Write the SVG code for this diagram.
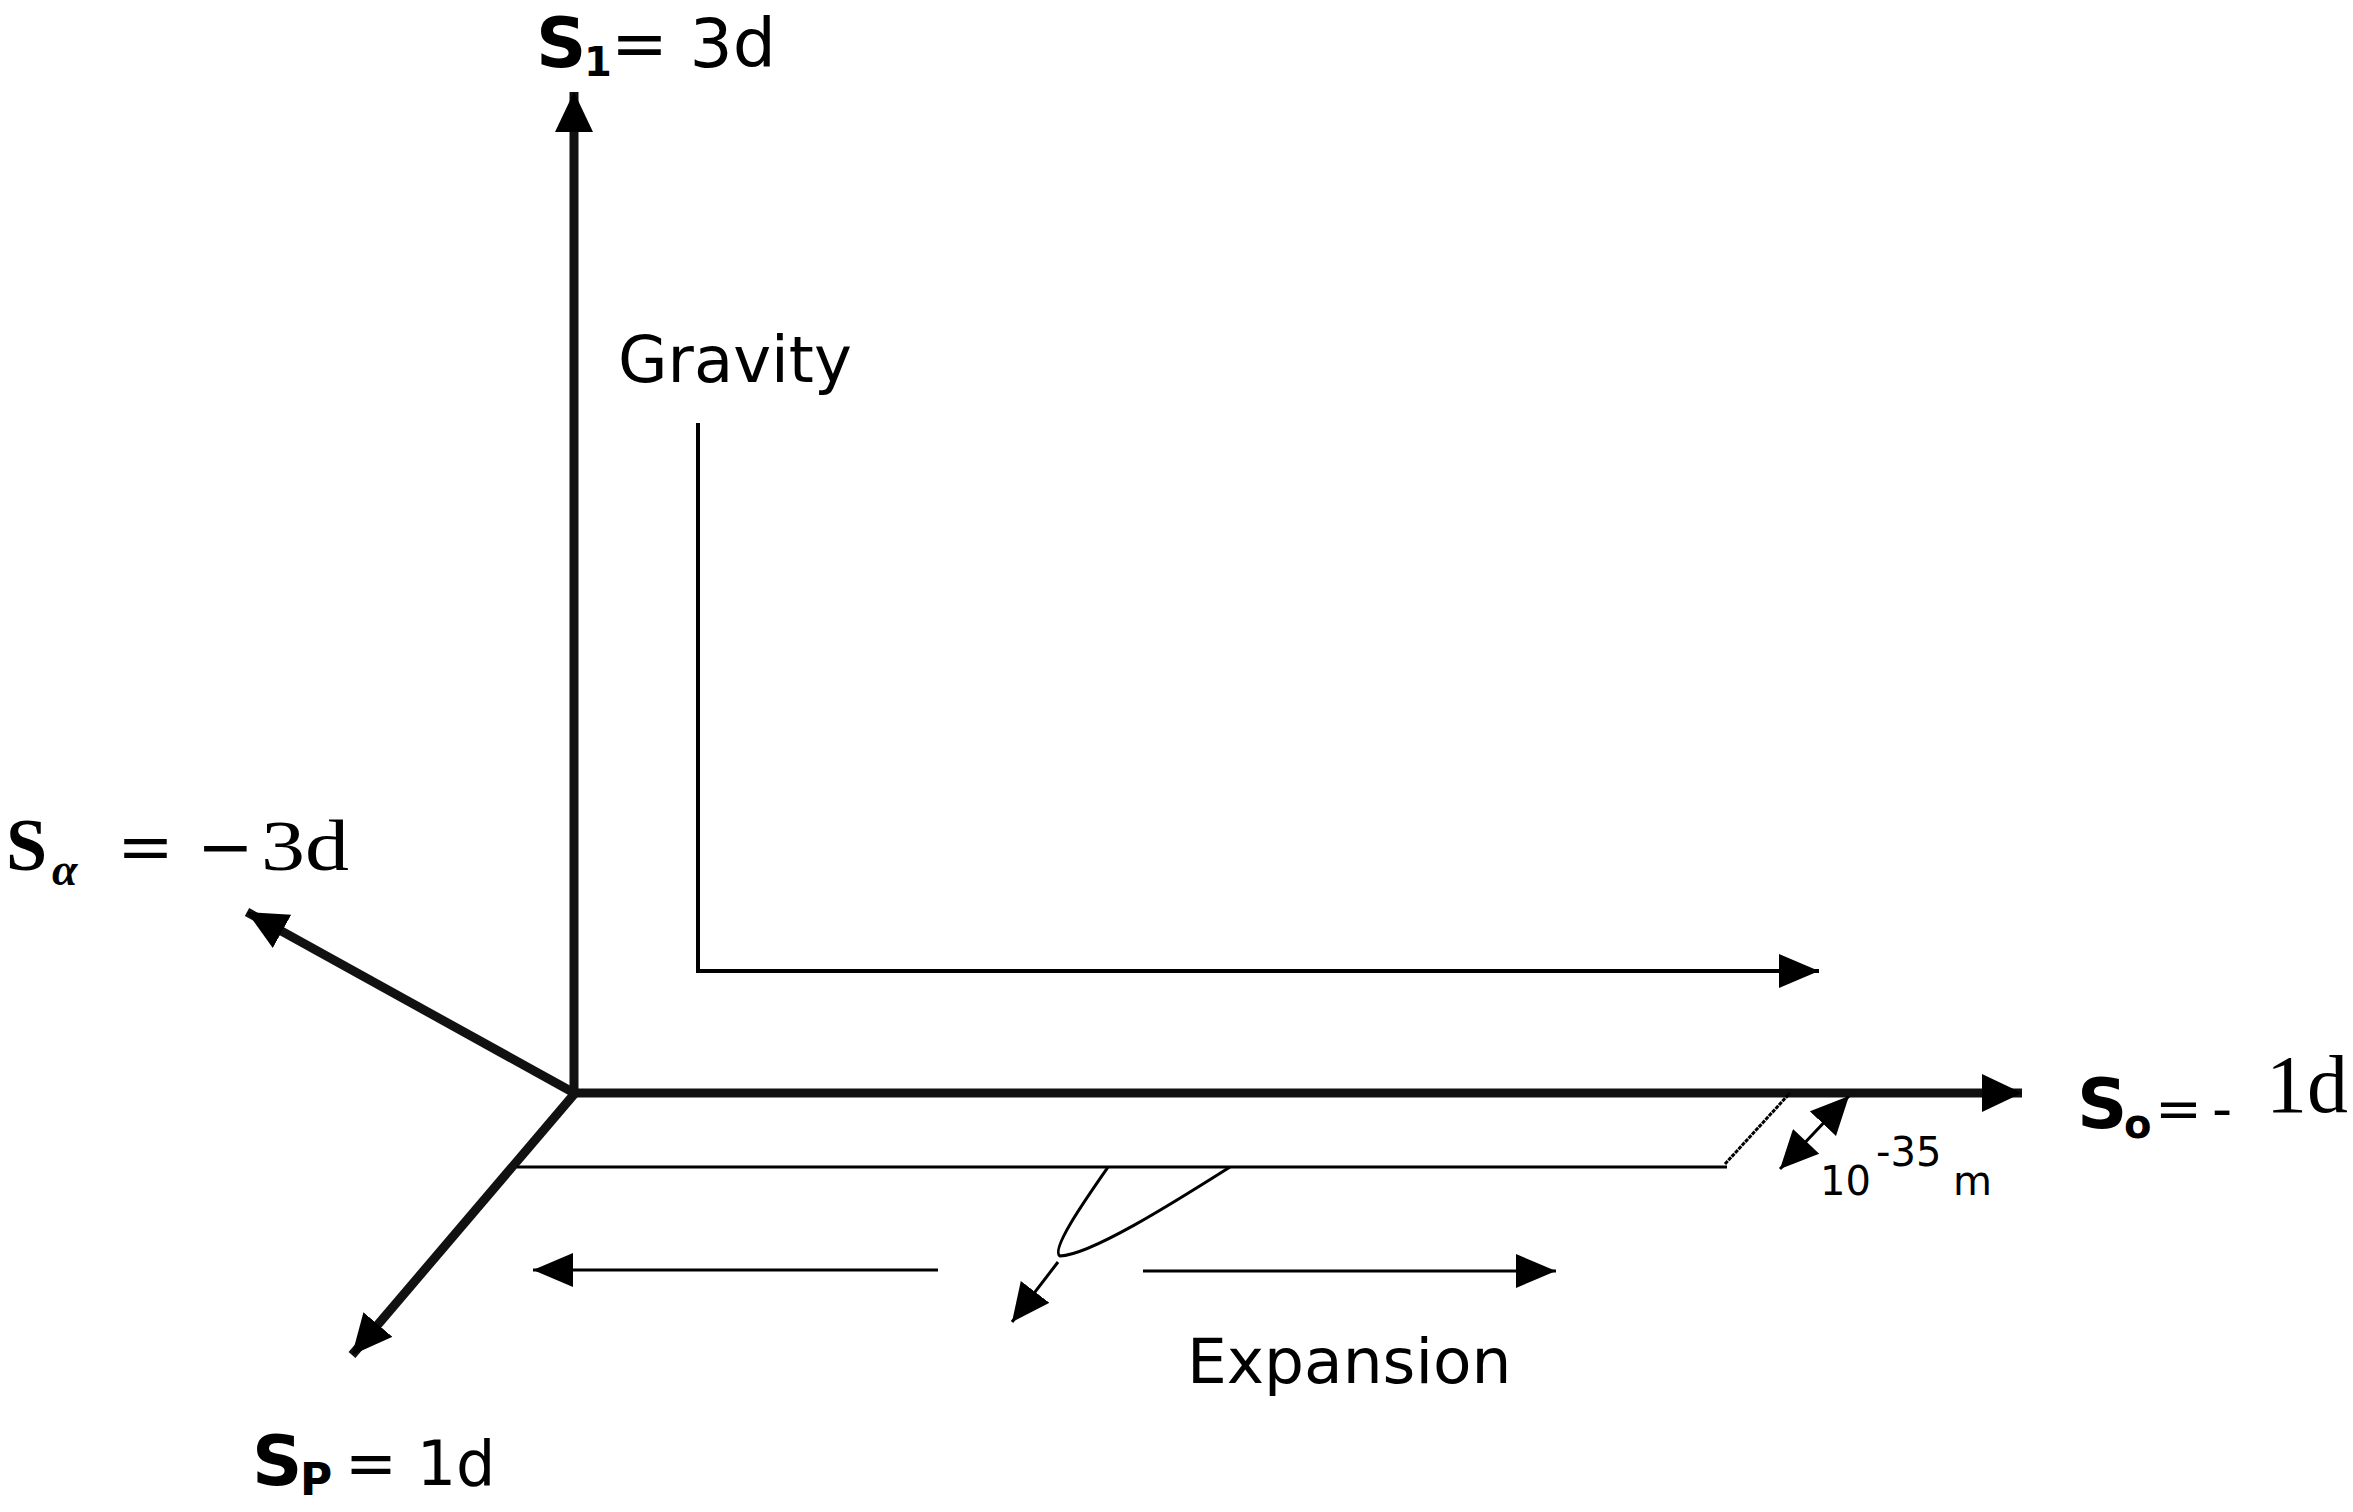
<svg xmlns="http://www.w3.org/2000/svg" width="2353" height="1512" viewBox="0 0 2353 1512">
<style>
.sans{font-family:"DejaVu Sans","Verdana",sans-serif;fill:#000}
.b{font-weight:bold}
.serif{font-family:"Liberation Serif","Times New Roman",serif;fill:#000}
.dserif{font-family:"DejaVu Serif",serif;fill:#000}
.axis{stroke:#111;stroke-width:9;fill:none}
.thin{stroke:#000;stroke-width:4;fill:none}
.hair{stroke:#000;stroke-width:3;fill:none}
</style>
<defs>
<marker id="ah" markerUnits="userSpaceOnUse" markerWidth="44" markerHeight="40" refX="40" refY="19" orient="auto">
<path d="M0,0 L40,19 L0,38 Z" fill="#000"/>
</marker>
<marker id="ahs" markerUnits="userSpaceOnUse" markerWidth="44" markerHeight="38" refX="40" refY="17" orient="auto">
<path d="M0,0 L40,17 L0,34 Z" fill="#000"/>
</marker>
<marker id="ahd" markerUnits="userSpaceOnUse" markerWidth="40" markerHeight="40" refX="38" refY="18" orient="auto">
<path d="M0,0 L38,18 L0,36 Z" fill="#000"/>
</marker>
<marker id="ahd0" markerUnits="userSpaceOnUse" markerWidth="40" markerHeight="40" refX="0" refY="18" orient="auto">
<path d="M38,0 L0,18 L38,36 Z" fill="#000"/>
</marker>
</defs>
<rect width="2353" height="1512" fill="#fff"/>

<g id="connectors">
<line class="axis" x1="574" y1="1097" x2="574" y2="92" marker-end="url(#ah)" stroke-width="11"/>
<line class="axis" x1="570" y1="1093" x2="2022" y2="1093" marker-end="url(#ah)"/>
<line class="axis" x1="576" y1="1094" x2="247" y2="912" marker-end="url(#ah)"/>
<line class="axis" x1="576" y1="1092" x2="352" y2="1355" marker-end="url(#ah)"/>
<polyline class="thin" points="698,423 698,971 1819,971" marker-end="url(#ahs)"/>
<line class="hair" x1="517" y1="1167" x2="1727" y2="1167"/>
<line class="hair" x1="1725" y1="1164" x2="1790" y2="1093" stroke-dasharray="4,1"/>
<line class="hair" x1="1780" y1="1169" x2="1849" y2="1096" marker-start="url(#ahd0)" marker-end="url(#ahd)"/>
<line class="hair" x1="938" y1="1270" x2="533" y2="1270" marker-end="url(#ahs)"/>
<line class="hair" x1="1143" y1="1271" x2="1556" y2="1271" marker-end="url(#ahs)"/>
<path class="hair" d="M1108,1167 C1085,1200 1050,1250 1060,1256 C1090,1255 1170,1205 1230,1167"/>
<line class="hair" x1="1058" y1="1262" x2="1012" y2="1322" stroke="#555" stroke-width="2" marker-end="url(#ahd)"/>
</g>

<g id="label-s1">
<text class="sans b" x="536" y="67" font-size="70">S</text>
<text class="sans b" x="584" y="76" font-size="40">1</text>
<text class="sans" x="611" y="67" font-size="68">= 3d</text>
</g>

<g id="label-salpha">
<text class="serif b" x="6" y="870" font-size="74">S</text>
<text class="serif b" x="52" y="885" font-size="46" font-style="italic">α</text>
<text class="dserif" x="117" y="870" font-size="68">=</text>
<text class="dserif" x="197" y="870" font-size="68">−</text>
<text class="serif" x="261" y="870" font-size="72" textLength="88" lengthAdjust="spacingAndGlyphs">3d</text>
</g>

<g id="label-so">
<text class="sans b" x="2077" y="1128" font-size="70">S</text>
<text class="sans b" x="2124" y="1138" font-size="40">o</text>
<text class="sans" x="2155" y="1128" font-size="56">=</text>
<text class="sans" x="2212" y="1128" font-size="56">-</text>
<text class="serif" x="2266" y="1112" font-size="82">1d</text>
</g>

<g id="label-sp">
<text class="sans b" x="252" y="1485" font-size="70">S</text>
<text class="sans b" x="300" y="1495" font-size="44">P</text>
<text class="sans" x="345" y="1485" font-size="62">= 1d</text>
</g>

<g id="label-gravity">
<text class="sans" x="618" y="382" font-size="64">Gravity</text>
</g>

<g id="label-expansion">
<text class="sans" x="1187" y="1383" font-size="63">Expansion</text>
</g>

<g id="label-planck">
<text class="sans" x="1820" y="1195" font-size="40">10</text>
<text class="sans" x="1876" y="1166" font-size="40">-35</text>
<text class="sans" x="1953" y="1195" font-size="40">m</text>
</g>
</svg>
